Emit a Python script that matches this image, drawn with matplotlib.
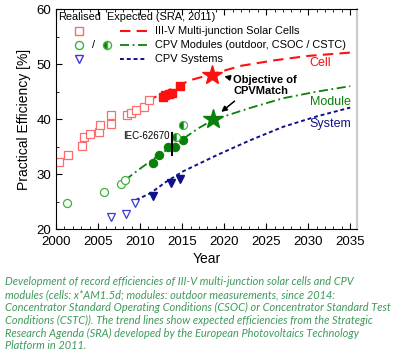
import matplotlib
matplotlib.use("Agg")
import matplotlib.pyplot as plt
from matplotlib.lines import Line2D
from matplotlib.ticker import MultipleLocator

plt.rcParams['font.family'] = ['Liberation Sans', 'DejaVu Sans']

# realised records (open = older, filled = recent)
cell_open_x = [2000.4, 2001.4, 2003.1, 2003.3, 2004.0, 2005.1, 2005.2, 2006.5, 2006.6,
               2008.4, 2008.9, 2009.5, 2010.5, 2011.1]
cell_open_y = [32.2, 33.5, 35.1, 36.7, 37.3, 37.7, 38.9, 39.2, 40.7,
               40.7, 41.1, 41.6, 42.2, 43.5]
cell_fill_x = [2012.7, 2013.0, 2013.4, 2013.8, 2014.8]
cell_fill_y = [44.0, 44.4, 44.6, 44.7, 46.0]

mod_open_x = [2001.3, 2005.7, 2007.7, 2008.2]
mod_open_y = [24.7, 26.7, 28.2, 28.9]
mod_fill_x = [2011.5, 2012.3, 2013.3, 2014.2, 2015.1]
mod_fill_y = [32.0, 33.5, 34.9, 35.0, 36.2]
mod_half_x = [2014.3, 2015.1]
mod_half_y = [36.7, 38.9]

sys_open_x = [2006.6, 2008.3, 2009.4]
sys_open_y = [22.2, 22.7, 24.7]
sys_fill_x = [2011.5, 2013.7, 2014.7]
sys_fill_y = [26.0, 28.4, 29.2]

# expected trends (SRA 2011)
cell_trend_x = [2010.8, 2012.4, 2014.0, 2016.0, 2018.6, 2022.0, 2026.0, 2030.0, 2035.0]
cell_trend_y = [43.4, 44.4, 45.7, 47.1, 48.2, 49.7, 50.7, 51.5, 52.1]
mod_trend_x = [2008.2, 2010.0, 2012.0, 2015.0, 2017.0, 2018.6, 2023.0, 2027.0, 2031.0, 2035.0]
mod_trend_y = [28.9, 31.0, 33.2, 36.3, 38.4, 39.8, 42.0, 43.8, 45.0, 46.0]
sys_trend_x = [2009.5, 2011.2, 2013.0, 2015.1, 2019.2, 2023.0, 2027.0, 2031.0, 2035.0]
sys_trend_y = [25.3, 26.5, 28.5, 30.5, 33.5, 36.1, 38.6, 40.5, 42.1]

# CPVMatch objectives
obj_x = [2018.6, 2018.7]
obj_y = [48.0, 40.0]

RED = '#ff1010'
RED_L = '#ff6a6a'
GREEN = '#0a800a'
GREEN_L = '#40b040'
BLUE = '#10108a'
BLUE_L = '#3a3ad0'

caption = ("Development of record efficiencies of III-V multi-junction solar cells and CPV\n"
           "modules (cells: x*AM1.5d; modules: outdoor measurements, since 2014:\n"
           "Concentrator Standard Operating Conditions (CSOC) or Concentrator Standard Test\n"
           "Conditions (CSTC)). The trend lines show expected efficiencies from the Strategic\n"
           "Research Agenda (SRA) developed by the European Photovoltaics Technology\n"
           "Platform in 2011.")

fig = plt.figure(figsize=(4.0, 3.52), dpi=100)
ax = fig.add_axes([0.14, 0.349, 0.7525, 0.625])

# trend lines
ax.plot(cell_trend_x, cell_trend_y, color=RED, lw=1.5, dashes=(5, 3))
ax.plot(mod_trend_x, mod_trend_y, color=GREEN, lw=1.3, dashes=(5, 2, 1, 2))
ax.plot(sys_trend_x, sys_trend_y, color=BLUE, lw=1.4, dashes=(2, 1.5))

# realised points
ax.plot(cell_open_x, cell_open_y, 's', ms=5.2, mfc='white', mec=RED_L, mew=0.9, ls='none')
ax.plot(cell_fill_x, cell_fill_y, 's', ms=5.2, color=RED, ls='none')
ax.plot(mod_open_x, mod_open_y, 'o', ms=5.8, mfc='white', mec=GREEN_L, mew=0.9, ls='none')
ax.plot(mod_fill_x, mod_fill_y, 'o', ms=5.8, color=GREEN, ls='none')
ax.plot(mod_half_x, mod_half_y, 'o', ms=5.8, color=GREEN, fillstyle='left',
        mfc=GREEN, mfcalt='white', mec=GREEN_L, mew=0.8, ls='none')
ax.plot(sys_open_x, sys_open_y, 'v', ms=6.3, mfc='white', mec=BLUE_L, mew=0.9, ls='none')
ax.plot(sys_fill_x, sys_fill_y, 'v', ms=6.3, color=BLUE, ls='none')

# objectives
ax.plot(obj_x[0], obj_y[0], '*', ms=15, color=RED, mec=RED)
ax.plot(obj_x[1], obj_y[1], '*', ms=15, color=GREEN, mec=GREEN)

# IEC-62670 marker
ax.plot([2013.8, 2013.8], [33.5, 37.4], color='black', lw=1.5)
ax.text(2013.5, 37.0, 'IEC-62670', fontsize=7, ha='right', va='center')

# curve labels
ax.text(2031.4, 50.2, 'Cell', color=RED, fontsize=9, ha='center', va='center')
ax.text(2032.6, 43.2, 'Module', color=GREEN, fontsize=9, ha='center', va='center')
ax.text(2032.6, 39.1, 'System', color=BLUE, fontsize=9, ha='center', va='center')

ax.text(2021.1, 46.1, 'Objective of\nCPVMatch', fontsize=8, fontweight='bold',
        ha='left', va='center', linespacing=1.2)
ax.annotate('', xy=(2019.7, 47.9), xytext=(2021.0, 47.4),
            arrowprops=dict(arrowstyle='-|>', color='black', lw=1.1, mutation_scale=8))
ax.annotate('', xy=(2019.4, 41.0), xytext=(2021.5, 43.6),
            arrowprops=dict(arrowstyle='-|>', color='black', lw=1.1, mutation_scale=8))

# legend drawn by hand
tr = ax.transAxes
LFS = 7.9
ax.text(0.007, 0.964, 'Realised', transform=tr, fontsize=LFS, va='center')
ax.text(0.169, 0.964, 'Expected (SRA, 2011)', transform=tr, fontsize=LFS, va='center')
rows = [0.900, 0.836, 0.773]
labels = ['III-V Multi-junction Solar Cells', 'CPV Modules (outdoor, CSOC / CSTC)', 'CPV Systems']
ax.add_line(Line2D([0.076], [rows[0]], transform=tr, marker='s', ms=5.2, mfc='white', mec=RED_L, ls='none'))
ax.add_line(Line2D([0.076], [rows[1]], transform=tr, marker='o', ms=5.8, mfc='white', mec=GREEN_L, ls='none'))
ax.text(0.123, rows[1], '/', transform=tr, fontsize=LFS, ha='center', va='center')
ax.add_line(Line2D([0.169], [rows[1]], transform=tr, marker='o', ms=5.8, color=GREEN, fillstyle='left',
                   mfc=GREEN, mfcalt='white', mec=GREEN_L, ls='none'))
ax.add_line(Line2D([0.076], [rows[2]], transform=tr, marker='v', ms=6.3, mfc='white', mec=BLUE_L, ls='none'))
ax.add_line(Line2D([0.213, 0.302], [rows[0]] * 2, transform=tr, color=RED, lw=1.5, dashes=(5, 3)))
ax.add_line(Line2D([0.213, 0.302], [rows[1]] * 2, transform=tr, color=GREEN, lw=1.3, dashes=(5, 2, 1, 2)))
ax.add_line(Line2D([0.213, 0.302], [rows[2]] * 2, transform=tr, color=BLUE, lw=1.4, dashes=(2, 1.5)))
for r, lab in zip(rows, labels):
    ax.text(0.329, r, lab, transform=tr, fontsize=LFS, va='center')

ax.set_xlim(2000, 2035.8)
ax.set_ylim(20, 60)
ax.xaxis.set_major_locator(MultipleLocator(5))
ax.xaxis.set_minor_locator(MultipleLocator(1))
ax.yaxis.set_major_locator(MultipleLocator(10))
ax.yaxis.set_minor_locator(MultipleLocator(5))
ax.tick_params(which='both', direction='in', top=True, right=False, labelsize=9.5)
ax.tick_params(axis='x', pad=5)
ax.tick_params(which='major', length=4)
ax.tick_params(which='minor', length=2.5)
ax.spines['right'].set_color('#cccccc')
ax.spines['right'].set_linewidth(1.6)
ax.set_xlabel('Year', fontsize=10, labelpad=3)
ax.set_ylabel('Practical Efficiency [%]', fontsize=10)

fig.text(0.012, 0.215, caption, fontsize=7.9, family=['Lato', 'DejaVu Sans'], style='italic',
         color='#3e9a5c', va='top', ha='left', linespacing=1.2)

fig.savefig('out.png', dpi=100)
